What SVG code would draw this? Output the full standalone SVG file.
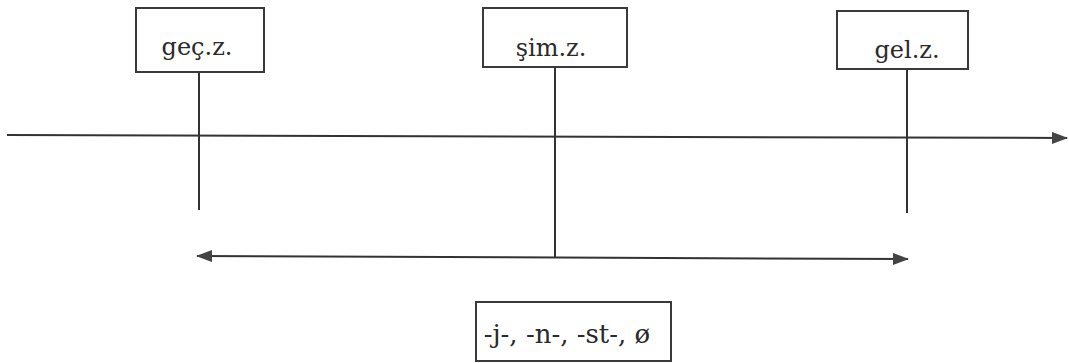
<svg xmlns="http://www.w3.org/2000/svg" width="1069" height="363" viewBox="0 0 1069 363">
<style>
.box{fill:#fff;stroke:#3a3a3a;stroke-width:2}
.lbl{font-family:'DejaVu Serif',serif;font-size:24px;fill:#2a2a2a;text-anchor:middle}
.big{font-size:26px}
.ln{stroke:#333;stroke-width:2;fill:none}
</style>
<defs>
<marker id="ah" viewBox="0 0 16 12" refX="15" refY="6" markerWidth="16" markerHeight="12" markerUnits="userSpaceOnUse" orient="auto-start-reverse">
<path d="M0,0 L16,6 L0,12 Z" fill="#444"/>
</marker>
</defs>
<rect width="1069" height="363" fill="#fff"/>
<g id="connectors">
<line class="ln" x1="7" y1="135" x2="1067" y2="138" marker-end="url(#ah)"/>
<line class="ln" x1="199" y1="72" x2="199" y2="210"/>
<line class="ln" x1="555" y1="67" x2="555" y2="257"/>
<line class="ln" x1="907" y1="69" x2="907" y2="213"/>
<line class="ln" x1="197" y1="256" x2="908" y2="259" marker-start="url(#ah)" marker-end="url(#ah)"/>
</g>
<g id="node-gec">
<rect class="box" x="136" y="8" width="128" height="64"/>
<text class="lbl" x="197" y="55">geç.z.</text>
</g>
<g id="node-sim">
<rect class="box" x="483" y="8" width="144" height="59"/>
<text class="lbl" x="551" y="56">şim.z.</text>
</g>
<g id="node-gel">
<rect class="box" x="837" y="11" width="131" height="58"/>
<text class="lbl" x="907" y="58">gel.z.</text>
</g>
<g id="node-suffix">
<rect class="box" x="476" y="302" width="195" height="59"/>
<text class="lbl big" x="567" y="343">-j-, -n-, -st-, ø</text>
</g>
</svg>
